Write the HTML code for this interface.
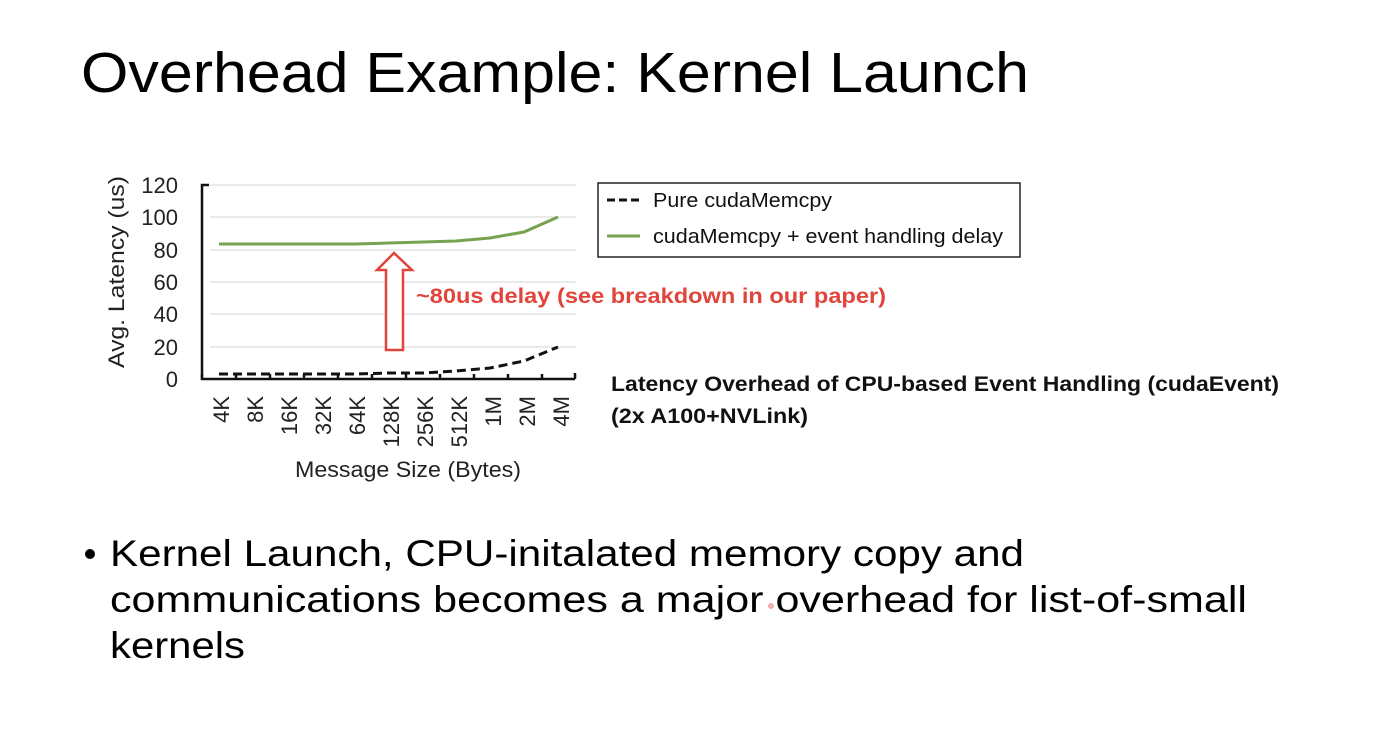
<!DOCTYPE html>
<html><head><style>
html,body{margin:0;padding:0;background:#fff;}
body{width:1384px;height:744px;overflow:hidden;position:relative;font-family:"Liberation Sans",sans-serif;}
</style></head><body>
<svg width="1384" height="744" viewBox="0 0 1384 744" xmlns="http://www.w3.org/2000/svg" style="position:absolute;left:0;top:0">
<text x="81" y="92" font-family="Liberation Sans" font-size="57" fill="#000" textLength="948" lengthAdjust="spacingAndGlyphs">Overhead Example: Kernel Launch</text>
<g stroke="#e4e4e4" stroke-width="1.5">
<line x1="210" y1="185" x2="576" y2="185"/><line x1="210" y1="217" x2="576" y2="217"/>
<line x1="210" y1="250" x2="576" y2="250"/><line x1="210" y1="282" x2="576" y2="282"/>
<line x1="210" y1="314" x2="576" y2="314"/><line x1="210" y1="347" x2="576" y2="347"/>
</g>
<g stroke="#111" stroke-width="2.5" fill="none">
<polyline points="209,185 202,185 202,379 575,379"/>
<path d="M202 379v-5M236 379v-5M270 379v-5M304 379v-5M338 379v-5M372 379v-5M406 379v-5M440 379v-5M474 379v-5M508 379v-5M542 379v-5M575 379v-6"/>
</g>
<g font-family="Liberation Sans" font-size="22" fill="#222" text-anchor="end">
<text x="178" y="193">120</text><text x="178" y="225">100</text><text x="178" y="258">80</text>
<text x="178" y="290">60</text><text x="178" y="322">40</text><text x="178" y="355">20</text><text x="178" y="387">0</text>
</g>
<text transform="translate(124,272) rotate(-90)" font-family="Liberation Sans" font-size="22" fill="#222" text-anchor="middle" textLength="192" lengthAdjust="spacingAndGlyphs">Avg. Latency (us)</text>
<g font-family="Liberation Sans" font-size="22" fill="#222" text-anchor="end">
<text transform="translate(229,396) rotate(-90)">4K</text>
<text transform="translate(263,396) rotate(-90)">8K</text>
<text transform="translate(297,396) rotate(-90)">16K</text>
<text transform="translate(331,396) rotate(-90)">32K</text>
<text transform="translate(365,396) rotate(-90)">64K</text>
<text transform="translate(399,396) rotate(-90)">128K</text>
<text transform="translate(433,396) rotate(-90)">256K</text>
<text transform="translate(467,396) rotate(-90)">512K</text>
<text transform="translate(501,396) rotate(-90)">1M</text>
<text transform="translate(535,396) rotate(-90)">2M</text>
<text transform="translate(569,396) rotate(-90)">4M</text>
</g>
<text x="295" y="477" font-family="Liberation Sans" font-size="22" fill="#222" textLength="226" lengthAdjust="spacingAndGlyphs">Message Size (Bytes)</text>
<polyline points="219,244 253,244 287,244 321,244 355,244 389,243 423,242 456,241 490,238 524,232 558,217" fill="none" stroke="#77a350" stroke-width="3"/>
<polyline points="219,374 253,374 287,374 321,374 355,374 389,373 423,373 456,371 490,368 524,361 558,347" fill="none" stroke="#111" stroke-width="3" stroke-dasharray="9,5"/>
<polygon points="386,350 403,350 403,270 412,270 394,253 377,270 386,270" fill="#fff" stroke="#e0443a" stroke-width="2.5"/>
<text x="416" y="303" font-family="Liberation Sans" font-size="21" font-weight="bold" fill="#e0443a" textLength="470" lengthAdjust="spacingAndGlyphs">~80us delay (see breakdown in our paper)</text>
<rect x="598" y="183" width="422" height="74" fill="#fff" stroke="#222" stroke-width="1.5"/>
<line x1="607" y1="200" x2="640" y2="200" stroke="#111" stroke-width="3" stroke-dasharray="8,4"/>
<line x1="607" y1="236" x2="640" y2="236" stroke="#77a350" stroke-width="3"/>
<g font-family="Liberation Sans" font-size="20" fill="#111">
<text x="653" y="207" textLength="179" lengthAdjust="spacingAndGlyphs">Pure cudaMemcpy</text>
<text x="653" y="243" textLength="350" lengthAdjust="spacingAndGlyphs">cudaMemcpy + event handling delay</text>
</g>
<g font-family="Liberation Sans" font-size="21" font-weight="bold" fill="#111">
<text x="611" y="391" textLength="668" lengthAdjust="spacingAndGlyphs">Latency Overhead of CPU-based Event Handling (cudaEvent)</text>
<text x="611" y="423" textLength="197" lengthAdjust="spacingAndGlyphs">(2x A100+NVLink)</text>
</g>
<g font-family="Liberation Sans" font-size="37" fill="#000">
<circle cx="90" cy="554" r="5" fill="#000"/>
<text x="110" y="566" textLength="914" lengthAdjust="spacingAndGlyphs">Kernel Launch, CPU-initalated memory copy and</text>
<text x="110" y="612" textLength="1137" lengthAdjust="spacingAndGlyphs">communications becomes a major overhead for list-of-small</text>
<text x="110" y="658" textLength="135" lengthAdjust="spacingAndGlyphs">kernels</text>
</g>
<circle cx="771" cy="606" r="3" fill="#e88" opacity="0.7"/>
</svg>
</body></html>
